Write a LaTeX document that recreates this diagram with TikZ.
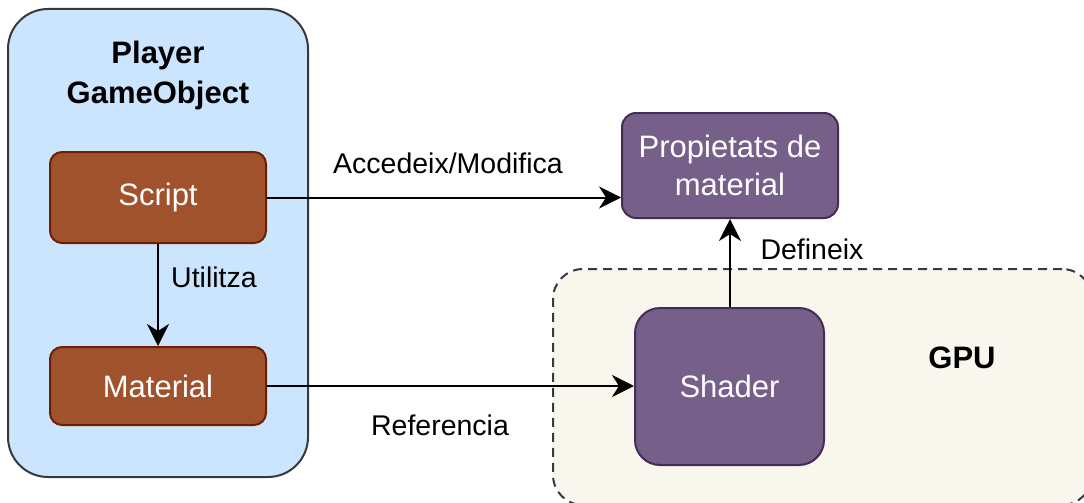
\documentclass[tikz,border=0pt]{standalone}
\usepackage{fontspec}
\setmainfont{Liberation Sans}
\usetikzlibrary{arrows.meta}
\definecolor{playerfill}{HTML}{CCE5FF}
\definecolor{boxline}{HTML}{36393D}
\definecolor{brownfill}{HTML}{A0522D}
\definecolor{brownline}{HTML}{6D1F00}
\definecolor{purplefill}{HTML}{76608A}
\definecolor{purpleline}{HTML}{432D57}
\definecolor{gpufill}{HTML}{F9F7ED}
\tikzset{
  container/.style={draw=boxline, line width=2pt, inner sep=0pt},
  brownbox/.style={draw=brownline, fill=brownfill, line width=2pt, rounded corners=12pt, text=white, inner sep=0pt, align=center, font=\fontsize{31}{38}\selectfont},
  purplebox/.style={draw=purpleline, fill=purplefill, line width=2pt, text=white, inner sep=0pt, align=center, font=\fontsize{31}{38}\selectfont},
  conn/.style={line width=2pt, -{Stealth[length=22pt,width=22pt,inset=7pt]}},
  elabel/.style={font=\fontsize{28.5}{34}\selectfont, inner sep=0pt},
}
\begin{document}
\begin{tikzpicture}[x=1pt,y=-1pt]
\useasboundingbox (0,0) rectangle (1084,503);
\clip (0,0) rectangle (1084,503);
\node[container, fill=playerfill, rounded corners=40pt, minimum width=300pt, minimum height=468pt] (player) at (158,243) {};
\node[font=\fontsize{31}{40}\selectfont\bfseries, align=center, inner sep=0pt] (playertitle) at (158,75) {Player\\GameObject};
\node[container, fill=gpufill, dashed, dash pattern=on 9pt off 6pt, rounded corners=30pt, minimum width=539pt, minimum height=236pt] (gpu) at (822.5,387) {};
\node[font=\fontsize{31}{38}\selectfont\bfseries, inner sep=0pt] (gpulabel) at (962,358) {GPU};
\node[brownbox, minimum width=216pt, minimum height=91pt] (script) at (158,197.5) {Script};
\node[brownbox, minimum width=216pt, minimum height=78pt] (material) at (158,386) {Material};
\node[purplebox, rounded corners=14pt, minimum width=216pt, minimum height=105pt] (props) at (730,165.5) {Propietats de\\material};
\node[purplebox, rounded corners=25pt, minimum width=189pt, minimum height=157pt] (shader) at (729.5,386.5) {Shader};
\draw[conn] (script.south) -- (material.north);
\node[elabel] (lutil) at (214,277) {Utilitza};
\draw[conn] (script.east) -- (script.east -| props.west);
\node[elabel] (lacc) at (448,163) {Accedeix/Modifica};
\draw[conn] (material.east) -- (material.east -| shader.west);
\node[elabel] (lref) at (440,425) {Referencia};
\draw[conn] (shader.north -| props.south) -- (props.south);
\node[elabel] (ldef) at (812,249) {Defineix};
\end{tikzpicture}
\end{document}
